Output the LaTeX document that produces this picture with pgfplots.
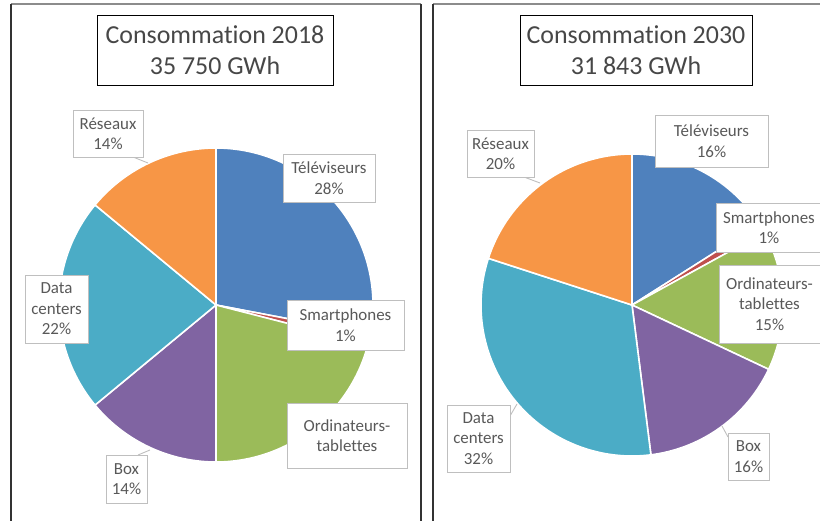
\documentclass[border=0pt]{standalone}
\usepackage{pgfplots}
\pgfplotsset{compat=1.18}
\usepackage{fontspec}
\setmainfont{Carlito}[Ligatures=NoCommon]
\definecolor{cBlue}{HTML}{4F81BD}
\definecolor{cRed}{HTML}{C0504D}
\definecolor{cGreen}{HTML}{9BBB59}
\definecolor{cPurple}{HTML}{8064A2}
\definecolor{cAqua}{HTML}{4BACC6}
\definecolor{cOrange}{HTML}{F79646}
\definecolor{txt}{HTML}{595959}
\definecolor{ttxt}{HTML}{474747}
\definecolor{boxgray}{HTML}{BFBFBF}
\definecolor{panel}{HTML}{333333}
\definecolor{panelTop}{HTML}{8C8C8C}
\tikzset{
  lbl/.style={draw=boxgray, fill=white, text=txt, line width=0.9pt, inner sep=0pt, align=center, font=\fontsize{17}{20.5}\selectfont},
  ttl/.style={draw=black, fill=white, text=ttxt, line width=1pt, inner sep=0pt, align=center, font=\fontsize{26}{31}\selectfont},
}

\gdef\cum{0}
% #1 cx, #2 cy, #3 radius, #4 percentage, #5 colour
\newcommand\slice[5]{%
  \pgfmathsetmacro\sA{\cum*3.6}%
  \pgfmathsetmacro\sB{(\cum+#4)*3.6}%
  \pgfmathsetmacro\cumnew{\cum+#4}%
  \global\let\cum\cumnew
  \edef\doplot{\noexpand\addplot[fill=#5, draw=white, line width=1.6pt, line join=round, mark=none, domain=\sA:\sB, samples=80] ({#1+#3*sin(x)},{#2-#3*cos(x)}) -- (axis cs:#1,#2) -- cycle;}%
  \doplot}

\begin{document}
\begin{tikzpicture}
\begin{axis}[
  scale only axis, width=820bp, height=521bp,
  xmin=0, xmax=820, ymin=0, ymax=521, y dir=reverse,
  hide axis, clip=false,
]
% panels
\draw[panelTop, line width=1.2pt] (axis cs:11,4) -- (axis cs:421,4);
\draw[panelTop, line width=1.2pt] (axis cs:433,4) -- (axis cs:830,4);
\draw[panel, line width=1.5pt] (axis cs:11,4) -- (axis cs:11,530);
\draw[panel, line width=1.5pt] (axis cs:421,4) -- (axis cs:421,530);
\draw[panel, line width=1.5pt] (axis cs:433,4) -- (axis cs:433,530);

% Pie 2018 : Televiseurs, Smartphones, Ordinateurs-tablettes, Box, Data centers, Reseaux
\gdef\cum{0}
\slice{216}{305}{157}{28}{cBlue}
\slice{216}{305}{157}{1}{cRed}
\slice{216}{305}{157}{21}{cGreen}
\slice{216}{305}{157}{14}{cPurple}
\slice{216}{305}{157}{22}{cAqua}
\slice{216}{305}{157}{14}{cOrange}

% Pie 2030
\gdef\cum{0}
\slice{632}{305}{151}{16}{cBlue}
\slice{632}{305}{151}{1}{cRed}
\slice{632}{305}{151}{15}{cGreen}
\slice{632}{305}{151}{16}{cPurple}
\slice{632}{305}{151}{32}{cAqua}
\slice{632}{305}{151}{20}{cOrange}

% leader lines
\draw[boxgray, line width=0.9pt] (axis cs:133,157) -- (axis cs:148,163);
\draw[boxgray, line width=0.9pt] (axis cs:138,455) -- (axis cs:150,450);
\draw[boxgray, line width=0.9pt] (axis cs:524,177) -- (axis cs:540,183);
\draw[boxgray, line width=0.9pt] (axis cs:510,416) -- (axis cs:517,404);
\draw[boxgray, line width=0.9pt] (axis cs:728,437) -- (axis cs:722,426);

% titles
\node[ttl, minimum width=236bp, minimum height=70bp] at (axis cs:215,50) {Consommation 2018\\35 750 GWh};
\node[ttl, minimum width=232bp, minimum height=70bp] at (axis cs:636,50) {Consommation 2030\\31 843 GWh};

% labels 2018
\node[lbl, minimum width=70bp, minimum height=47bp] at (axis cs:108,133.5) {Réseaux\\14\%};
\node[lbl, minimum width=92bp, minimum height=48bp] at (axis cs:329,178) {Téléviseurs\\28\%};
\node[lbl, minimum width=117bp, minimum height=50bp] at (axis cs:345.5,325) {Smartphones\\1\%};
\node[lbl, minimum width=120bp, minimum height=65bp] at (axis cs:347,435.5) {Ordinateurs-\\tablettes};
\node[lbl, minimum width=41bp, minimum height=48bp] at (axis cs:126.5,479) {Box\\14\%};
\node[lbl, minimum width=63bp, minimum height=68bp] at (axis cs:56.5,309) {Data\\centers\\22\%};

% labels 2030
\node[lbl, minimum width=67bp, minimum height=47bp] at (axis cs:500.5,153.5) {Réseaux\\20\%};
\node[lbl, minimum width=113bp, minimum height=52bp] at (axis cs:711.5,141) {Téléviseurs\\16\%};
\node[lbl, minimum width=106bp, minimum height=49bp] at (axis cs:769,227.5) {Smartphones\\1\%};
\node[lbl, minimum width=101bp, minimum height=78bp] at (axis cs:769.5,304) {Ordinateurs-\\tablettes\\15\%};
\node[lbl, minimum width=41bp, minimum height=47bp] at (axis cs:748.5,456.5) {Box\\16\%};
\node[lbl, minimum width=63bp, minimum height=67bp] at (axis cs:478.5,438.5) {Data\\centers\\32\%};
\end{axis}
\pgfresetboundingbox
\useasboundingbox (0,0) rectangle (820bp,521bp);
\end{tikzpicture}
\end{document}
